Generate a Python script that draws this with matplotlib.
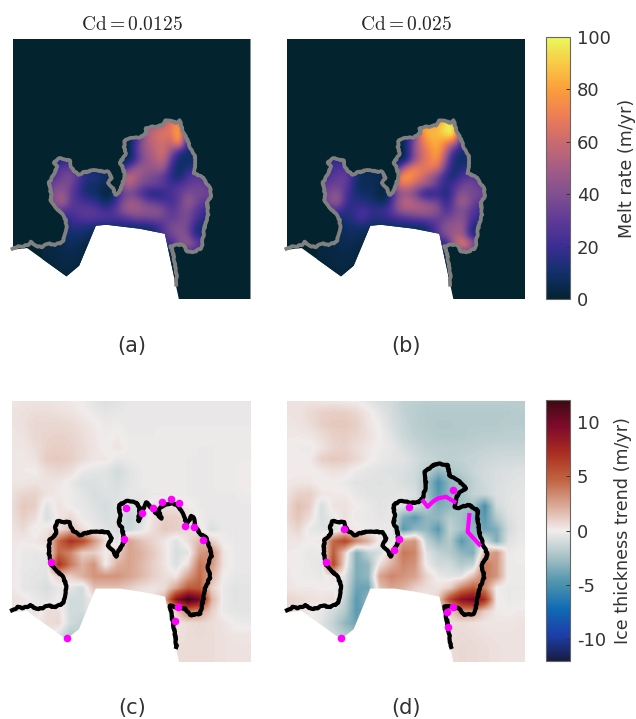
import numpy as np
import matplotlib
matplotlib.use("Agg")
import matplotlib.pyplot as plt
from matplotlib.colors import LinearSegmentedColormap
from matplotlib.patches import Polygon

plt.rcParams['axes.unicode_minus'] = False
plt.rcParams['mathtext.fontset'] = 'cm'

titles = ['Cd{=}0.0125', 'Cd{=}0.025']
letters = ['(a)', '(b)', '(c)', '(d)']
melt_ticks = [0, 20, 40, 60, 80, 100]
trend_ticks = [-10, -5, 0, 5, 10]

# melt grid: x = 140..640 step 25, y = 265..740 step 25
melt_a = [
[0,0,0,0,0,0,0,0,0,0,0,20,40,45,50,55,70,10,0,0,0],
[0,0,0,0,0,0,0,0,0,0,0,20,48,52,58,68,88,8,0,0,0],
[0,0,0,0,0,0,0,0,0,0,5,22,50,62,68,62,92,12,0,0,0],
[0,0,0,0,0,0,0,0,0,0,2,30,52,58,62,55,85,12,5,0,0],
[0,0,0,0,0,0,0,0,0,3,2,32,48,55,65,45,15,10,8,0,0],
[10,10,15,15,5,0,0,0,0,5,3,28,45,50,62,28,8,8,10,5,0],
[18,20,30,30,15,8,5,5,5,12,35,50,46,46,50,20,5,15,15,10,0],
[22,25,35,40,25,15,15,10,5,48,62,50,40,36,30,15,8,25,28,25,10],
[30,35,40,35,20,8,10,5,2,45,55,40,35,35,30,20,25,30,35,32,25],
[35,40,48,30,18,10,8,3,3,30,35,30,15,8,15,25,30,40,35,38,30],
[35,42,55,28,25,20,18,5,12,35,50,45,35,30,25,20,30,50,38,28,25],
[25,30,30,25,30,30,28,22,25,40,50,50,45,45,40,28,35,40,28,20,15],
[15,15,15,20,25,28,28,25,25,25,30,35,35,38,35,30,35,40,25,15,10],
[8,8,8,15,15,12,10,10,10,10,10,10,10,15,25,40,40,38,12,8,5],
[5,5,8,10,10,8,5,5,5,5,5,5,5,10,25,35,42,40,10,15,5],
[3,5,5,8,6,4,2,2,2,2,2,2,2,5,20,20,40,50,38,25,5],
[3,3,5,6,4,2,2,2,2,2,2,2,2,2,5,5,10,30,20,5,0],
[2,3,4,5,3,2,2,1,1,1,1,1,1,1,2,2,2,2,2,0,0],
[2,2,3,3,2,2,1,1,1,1,1,1,1,1,1,1,1,1,1,0,0],
[2,2,3,3,2,1,1,1,1,1,1,1,1,1,1,1,1,1,1,0,0],
]
melt_b = [
[0,0,0,0,0,0,0,0,0,0,0,20,35,50,70,90,90,10,0,0,0],
[0,0,0,0,0,0,0,0,0,0,0,25,85,85,85,100,100,10,0,0,0],
[0,0,0,0,0,0,0,0,0,0,5,25,70,88,85,95,100,20,0,0,0],
[0,0,0,0,0,0,0,0,0,0,5,35,65,80,85,70,55,15,5,0,0],
[0,0,0,0,0,0,0,0,0,3,0,38,60,72,85,55,15,12,8,0,0],
[10,15,20,15,5,0,0,0,0,5,3,35,60,70,80,40,10,8,10,5,0],
[15,20,25,25,10,5,3,3,3,15,55,75,68,70,65,30,8,15,15,10,0],
[20,25,30,35,15,5,8,5,3,60,85,75,65,50,35,15,10,25,28,25,10],
[28,32,35,30,12,5,8,5,2,55,70,60,50,45,30,15,25,35,38,30,25],
[32,38,45,25,12,8,8,3,3,35,45,40,20,8,20,8,30,45,35,38,30],
[32,40,50,20,15,15,12,5,10,40,60,55,45,40,35,15,35,55,38,28,25],
[20,25,25,15,18,25,18,20,22,40,50,50,55,50,45,22,35,40,30,20,15],
[10,10,10,12,18,25,15,15,18,22,25,30,30,35,30,35,40,45,25,18,10],
[5,5,5,8,10,10,8,8,8,8,8,8,8,15,30,45,45,50,15,8,5],
[3,5,5,8,8,6,5,5,5,5,5,5,5,10,30,40,50,50,12,12,5],
[3,3,5,6,5,4,2,2,2,2,2,2,2,5,15,15,55,75,55,30,5],
[3,3,4,5,4,2,2,2,2,2,2,2,2,2,5,5,15,45,30,5,0],
[2,3,4,4,3,2,2,1,1,1,1,1,1,1,2,2,2,2,2,0,0],
[2,2,3,3,2,2,1,1,1,1,1,1,1,1,1,1,1,1,1,0,0],
[2,2,3,3,2,1,1,1,1,1,1,1,1,1,1,1,1,1,1,0,0],
]
# trend grid: x = 37..737 step 35, y = 18..788 step 35
trend_c = [
[.2,.3,.3,.3,.2,.1,-.1,-.4,-.7,-.5,-.3,-.3,-.3,-.3,-.3,-.3,-.3,-.3,-.3,-.3,-.3],
[.3,.4,.5,.5,.4,.3,.1,-.2,-.4,-.3,-.2,-.2,-.2,-.2,-.2,-.2,-.2,-.2,-.2,-.2,-.2],
[.3,.4,.7,.7,.7,.6,.4,.1,-.2,-.1,-.3,-.2,-.2,-.2,-.2,-.2,-.2,-.2,-.2,-.2,-.2],
[.2,.3,.7,.8,.9,.8,.5,.2,-.1,.1,-.2,-.2,-.2,-.1,-.1,-.1,-.1,-.1,-.1,-.1,-.1],
[.2,.2,.5,.9,1,.9,.6,.3,-.1,.3,-.1,-.1,-.1,-.1,-.1,-.1,-.2,-.2,-.1,-.1,-.1],
[.1,.1,.3,1.1,1.2,1,.6,.2,.2,-.3,-.2,-.1,-.1,-.1,-.1,-.2,-.2,-.2,-.1,-.1,-.1],
[.1,.1,0,.5,.7,.5,-.2,-.4,-.5,-1,-.5,-.2,-.1,-.1,-.1,-.2,-.2,-.2,-.1,-.1,0],
[.2,.2,.3,.3,.2,-.2,-.7,-.7,-.5,-.8,-.5,-.2,-.1,-.1,-.1,-.2,-.2,-.2,-.1,-.1,.1],
[.4,.8,.9,.3,.1,-.1,-.4,-.8,-.6,-.6,-.3,-.3,-.2,-.2,-.1,-.2,-.2,-.2,-.2,-.2,-.1],
[.5,1.2,1,-.6,.3,-.1,-.3,-.6,-.9,-.5,-.8,-.5,.2,.5,.3,.1,-.2,-.2,-.2,-.2,-.2],
[.4,1,.5,-.8,.2,.7,-.2,-.4,-.8,-.7,-1.3,-.8,.3,1,1,.5,-.1,-.3,-.2,-.2,-.2],
[.3,.6,-.2,.3,.5,1.5,.5,-.2,-.5,-.8,-1.2,-.5,.5,1.2,1,.6,.3,-.8,-.2,-.3,-.2],
[.2,.1,.2,.5,4.5,7,6,3,.5,-.5,2.5,1.5,.8,.2,-.6,.5,1.8,1,-.1,-.2,-.2],
[.2,-.2,-.3,-.2,4.5,3.5,1,1,0,1,2.5,2,1.2,.3,-.8,-.5,2.8,3.5,.3,-.2,-.2],
[.2,-.2,-.3,-.5,7,4,2,3,0,2,2.5,1.8,1,.3,-.7,.5,4,3,.3,-.2,-.2],
[.2,-.3,-.4,-.5,1,1,2,3,3,3,2.5,1.8,1,.5,.2,2.5,4.5,2,0,-.3,-.3],
[.2,-.3,-.5,-.8,-.3,-.4,-1,1.5,1.5,1.5,1,.5,.3,.5,2.5,5,5,1,-.2,-.5,-.4],
[.4,.2,-.2,-.5,0,-1,-1,0,0,0,0,0,0,2,9,12,10,2,-.2,-.5,-.4],
[.2,.1,-.5,.5,.5,-1,-1,0,0,0,0,0,0,0,1,4,3,1,-.2,-.4,-.4],
[.2,.2,.1,.5,.7,-1,-1.5,0,0,0,0,0,0,0,.3,.5,.7,.5,.3,-.1,-.2],
[.1,.1,.1,.3,-.5,-2,-1.5,0,0,0,0,0,0,0,.3,.5,.6,.5,.4,.2,.2],
[.1,.1,.1,.1,-.3,-1,-.5,0,0,0,0,0,0,0,.5,.5,.5,.5,.4,.3,.3],
[.1,.1,.1,.1,0,0,0,0,0,0,0,0,0,0,.5,.5,.5,.5,.4,.3,.3],
]
trend_d = [
[.3,.3,.3,.2,.2,.1,0,-.4,-.8,-1,-1.5,-1.7,-1.8,-1.8,-1.8,-1.8,-1.8,-1.8,-1.8,-1.8,-1.8],
[.3,.3,.6,.9,1,1,.7,.2,-.4,-.9,-1.5,-1.8,-2,-2,-2,-2,-2,-2,-2,-2,-1.9],
[.2,.3,.5,1,1.2,1.2,1,.3,-.1,-.8,-1.3,-1.8,-2,-2.1,-2.1,-2,-2,-2,-2,-1.9,-1.9],
[.1,.1,.2,.5,.9,1,.8,.4,0,-.5,-1.2,-1.6,-1.8,-2,-2,-2,-1.9,-1.8,-1.8,-1.7,-1.7],
[.1,-.1,-.2,.3,.8,.9,.5,.2,-.1,-.3,-.8,-1.2,-1.6,-1.7,-1.8,-1.7,-1.6,-1.5,-1.4,-1.4,-1.4],
[.1,0,0,1,1.2,1.1,.7,.1,-.2,-.4,-.5,-.9,-1.3,-1.5,-1.7,-1.5,-1.4,-1.2,-1.1,-1,-1],
[0,0,0,.1,.4,.3,-.2,-.4,-.5,-.6,-.7,-1,-1.8,-3,-2.2,-1.8,-1.3,-1,-.8,-.7,-.6],
[.1,.2,.2,-.1,0,-.2,-.5,-.5,-.6,-.5,-.8,-1,-2.5,-5,-3,-2.5,-1.6,-1,-.8,-.6,-.5],
[.3,.9,1,.2,.1,.1,-.3,-.5,-.5,-.5,-.4,-.7,-2.5,-4.5,-3,-2.5,-1.5,-1.3,-.7,-.5,-.4],
[.5,1.5,1,-.8,.3,.4,0,-.2,-.5,-.3,-.6,-1,-2,-3.5,-3,-2.5,-2.5,-5,-1,-.5,-.3],
[.6,1.3,.5,-.8,-.2,.4,-.2,-.2,-.4,-.3,-3.5,-4.5,-3,-3,-2,-2.5,-3.5,-4.5,-2,-.7,-.3],
[.3,.8,-.3,-.5,-1,.3,.1,-.1,-.2,-.2,-4.5,-3,-3,-4.5,-1.5,-2.5,-3,-4,-3.5,-1,-.3],
[.2,.2,0,.2,4.5,6,3.5,2,-.2,-.5,2.5,3,-1.5,-3,-2,-4.5,-3,-1,-3.5,-.6,-.2],
[.1,0,-.3,-.2,5,1,-3.5,-1.5,-.8,1,4,3.5,-.5,-1.5,-2,-3,-3.5,2,3,-.2,0],
[.1,0,-.2,-.4,6,.5,-3.5,-3,.5,2,3.5,3,-.2,-1,-1,-2,-1.5,4,3,-.1,-.1],
[.2,-.1,-.1,-.3,.3,-.5,-3.5,-3,2.5,3.5,3,2.5,.8,-.2,-.5,-.5,1.5,4,3,-.1,-.1],
[.3,.1,.1,0,0,-1,-4,-4,1.5,2.5,2,1,.5,.3,1,3.5,5,3.5,-.1,-.2,-.2],
[.8,.6,.4,.3,.5,-1.5,-4.5,-3,-1,0,0,0,0,1,6,9,10,7,.1,-.2,-.1],
[.7,.5,.1,-.3,-1,-2,-4.5,-3.5,-1,0,0,0,0,0,1,3,3,1,.1,0,.1],
[.3,.2,0,-.5,-1.5,-3,-4,-2,0,0,0,0,0,0,.4,.5,.4,.2,.2,.2,.3],
[.2,.1,0,-.3,-1,-2,-2.5,-1,0,0,0,0,0,0,.5,.6,.5,.4,.3,.3,.3],
[.1,0,0,0,-.5,-1,-1,0,0,0,0,0,0,0,.5,.7,.6,.5,.4,.3,.3],
[.1,0,0,0,0,0,0,0,0,0,0,0,0,0,.5,.7,.6,.5,.4,.3,.3],
]

ice_front = [(530,770),(537,808),(495,612),(420,597),(320,585),(288,588),(238,708),(200,740),(82,655),(38,660)]
front_low = [(537,800),(495,604),(420,589),(360,580),(288,580),(238,702),(200,732),(82,647),(38,652)]
gl_a = [(38,657),(48,652),(55,650),(65,652),(75,648),(85,645),(92,635),(105,645),(115,650),(125,652),(138,645),(150,642),
(165,645),(180,640),(190,632),(195,610),(200,595),(197,570),(188,555),(180,545),(168,535),(160,525),(152,510),(155,495),
(150,475),(148,458),(158,440),(165,425),(172,410),(163,398),(175,385),(195,388),(210,393),(215,415),(235,435),(250,428),
(265,425),(280,420),(290,420),(310,426),(325,425),(335,445),(325,460),(340,475),(345,495),(358,490),(366,465),(375,440),
(370,415),(360,398),(370,385),(378,370),(373,350),(375,330),(395,325),(420,322),(440,310),(438,295),(460,290),(478,288),
(490,285),(497,272),(515,274),(530,278),(540,272),(548,300),(560,325),(570,350),(585,380),(585,410),(580,430),(600,438),
(610,445),(630,475),(635,495),(622,520),(625,555),(615,590),(610,620),(605,655),(580,668),(560,665),(550,645),(525,645),
(512,650),(520,670),(525,700),(530,740),(530,765)]
gl_b = [(x-2, y) for x, y in gl_a]
gl_c = [(38,645),(48,640),(55,635),(65,638),(75,637),(85,634),(92,628),(105,637),(115,640),(125,640),(138,634),(150,632),
(165,635),(180,630),(190,622),(195,610),(200,570),(190,545),(170,525),(155,510),(148,470),(150,435),(170,415),(168,395),
(172,378),(190,380),(210,382),(218,405),(240,420),(265,412),(290,408),(325,412),(335,430),(325,452),(340,465),(348,485),
(358,465),(372,440),(368,400),(357,385),(362,365),(357,330),(380,318),(410,322),(420,340),(415,378),(430,345),(440,322),
(460,345),(485,370),(475,345),(490,330),(515,325),(530,330),(545,350),(560,385),(570,375),(572,362),(580,365),(585,395),
(600,415),(620,430),(635,480),(622,510),(630,545),(615,580),(608,620),(600,655),(570,660),(555,640),(530,635),(510,632),
(515,660),(522,700),(530,755)]
gl_d = gl_c[:42] + [(375,318),(410,322),(430,322),(445,310),(455,270),(452,230),(470,215),(490,205),(520,210),(525,240),
(550,255),(565,270),(575,280),(555,290),(545,310),(540,335),(555,340),(580,328),(610,345),(610,370),(615,410),(625,445),
(640,480)] + gl_c[63:]
pink_c = [(380,338),(373,430),(155,500),(425,353),(458,338),(487,322),(513,312),(538,325),(555,392),(582,395),(610,435),(535,635),(525,678),(202,729)]
pink_d_line = [(447,318),(460,335),(475,320),(490,310),(515,305),(540,320)]
pink_d_line2 = [(585,360),(580,410),(615,448)]
pink_d = [(535,285),(210,403),(405,335),(373,430),(360,465),(155,500),(535,635),(518,650),(200,729),(520,695)]

thermal = LinearSegmentedColormap.from_list('thermal', ['#03232f','#12306c','#3b2d93','#5f3a96','#80508f','#a65c85','#ca6b6f','#ee7d55','#fb9e3a','#f8c945','#e8fa5b'])
balance = LinearSegmentedColormap.from_list('balance', ['#181c43','#1c3fa8','#0f6bb5','#4f94ad','#a8c3c6','#f1ecec','#d9a692','#c0613f','#a92c20','#7f0b2b','#3c0912'])

W, H = 636, 719
fig = plt.figure(figsize=(W/100, H/100), dpi=100)
def add_ax(l, t, r, b):
    return fig.add_axes([l/W, 1-b/H, (r-l)/W, (b-t)/H])

mx = np.arange(140, 641, 25); my = np.arange(265, 741, 25)
tx = np.arange(37, 738, 35); ty = np.arange(18, 789, 35)
def ext(x, y):
    return [x[0]-(x[1]-x[0])/2, x[-1]+(x[1]-x[0])/2, y[-1]+(y[1]-y[0])/2, y[0]-(y[1]-y[0])/2]

boxes = [(12.5,39,250.5,299),(287,39,525,299),(12,401,251,662),(287,401,525,662)]
axs = [add_ax(*b) for b in boxes]
BG = '#03232f'
ims = []
for ax, field, gl in zip(axs[:2], [melt_a, melt_b], [gl_a, gl_b]):
    ax.set_xlim(38, 752); ax.set_ylim(808, 27); ax.axis('off')
    dom = Polygon([(38,27),(752,27),(752,808)] + ice_front[1:], transform=ax.transData, fc=BG, ec='none', zorder=0)
    ax.add_patch(dom)
    im = ax.imshow(field, extent=ext(mx, my), cmap=thermal, vmin=0, vmax=100, interpolation='bicubic', aspect='auto', zorder=1)
    im.set_clip_path(Polygon(gl + ice_front[1:], transform=ax.transData))
    ax.set_xlim(38, 752); ax.set_ylim(808, 27)
    xs, ys = zip(*gl)
    ln, = ax.plot(xs, ys, color='#808080', lw=2.7, solid_joinstyle='round', clip_on=False, zorder=3)
    ln.set_sketch_params(scale=0.5, length=6, randomness=20)
    ims.append(im)
for ax, field, gl in zip(axs[2:], [trend_c, trend_d], [gl_c, gl_d]):
    ax.axis('off')
    im = ax.imshow(field, extent=ext(tx, ty), cmap=balance, vmin=-12, vmax=12, interpolation='bilinear', aspect='auto')
    im.set_clip_path(Polygon([(38,18),(752,18),(752,800)] + front_low, transform=ax.transData))
    ax.set_xlim(38, 752); ax.set_ylim(800, 18)
    xs, ys = zip(*gl)
    ln, = ax.plot(xs, ys, color='black', lw=3, solid_joinstyle='round', clip_on=False, zorder=3)
    ln.set_sketch_params(scale=0.5, length=6, randomness=20)
    ims.append(im)
px, py = zip(*pink_c)
axs[2].plot(px, py, ls='none', marker='o', ms=5.5, mew=0, color='#ff00ff', clip_on=False, zorder=4)
px, py = zip(*pink_d)
axs[3].plot(px, py, ls='none', marker='o', ms=5.5, mew=0, color='#ff00ff', clip_on=False, zorder=4)
for seg in (pink_d_line, pink_d_line2):
    px, py = zip(*seg)
    axs[3].plot(px, py, color='#ff00ff', lw=3, zorder=4)

for ax, t in zip(axs[:2], titles):
    fig.text((ax.get_position().x0+ax.get_position().x1)/2, 1-25/H, '$\\mathrm{%s}$' % t, ha='center', va='center', fontsize=14, color='#262626')
for (cx, cy), s in zip([(132,346),(406,346),(132,708),(406,708)], letters):
    fig.text(cx/W, 1-cy/H, s, ha='center', va='center', fontsize=15, color='#333333')

cax1 = add_ax(546, 37, 570, 299)
cax2 = add_ax(546, 400, 570, 661)
cb1 = fig.colorbar(ims[0], cax=cax1, ticks=melt_ticks)
cb2 = fig.colorbar(ims[2], cax=cax2, ticks=trend_ticks)
for cb, lab, lx in [(cb1, 'Melt rate (m/yr)', 627), (cb2, 'Ice thickness trend (m/yr)', 623)]:
    cb.ax.tick_params(direction='in', length=3, width=0.7, labelsize=13, labelcolor='#333333', color='#333333', pad=5)
    cb.outline.set_edgecolor('#666666'); cb.outline.set_linewidth(0.8)
    pos = cb.ax.get_position()
    fig.text(lx/W, (pos.y0+pos.y1)/2, lab, rotation=90, ha='center', va='center', fontsize=12.6, color='#333333')
fig.savefig('out.png', dpi=100)
